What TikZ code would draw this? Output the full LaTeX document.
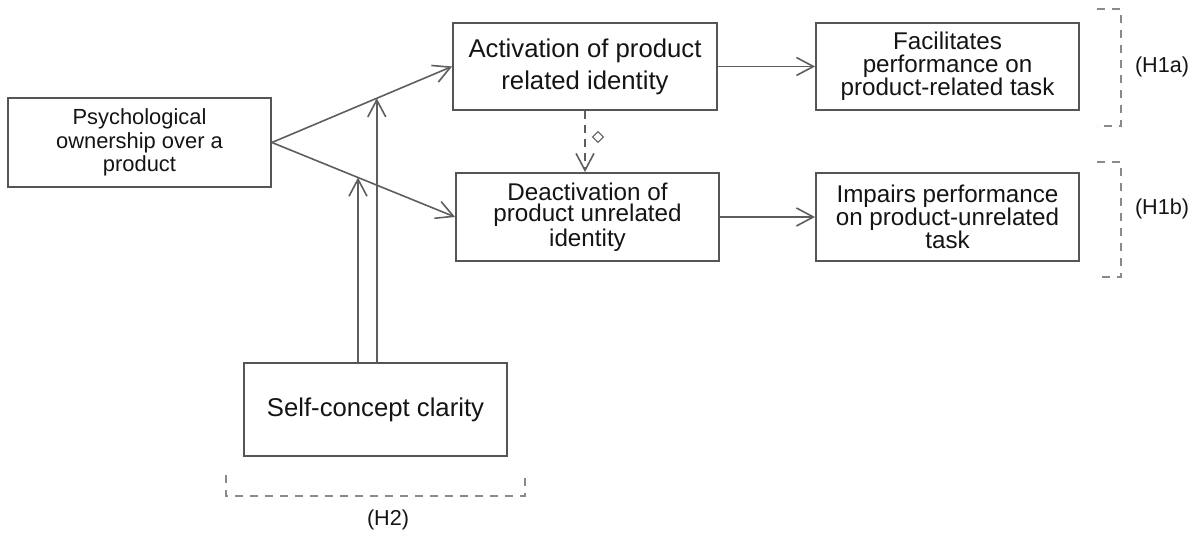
\documentclass[tikz,border=0pt]{standalone}
\usepackage{fontspec}
\setmainfont{Liberation Sans}
\usetikzlibrary{arrows.meta,calc,shapes.geometric}
\definecolor{linec}{HTML}{5E5E5E}
\definecolor{boxc}{HTML}{555555}
\definecolor{dashc}{HTML}{8A8A8A}
\definecolor{txtc}{HTML}{141414}
\tikzset{
  boxnode/.style={draw=boxc,line width=0.9pt,inner sep=0pt,align=center,text=txtc},
  arr/.style={draw=linec,line width=0.8pt,-{Straight Barb[length=8.5pt,width=9pt,line width=0.8pt]}},
  dasharr/.style={arr,dash pattern=on 4pt off 3pt},
  brack/.style={draw=dashc,line width=0.7pt,dash pattern=on 4pt off 3.5pt},
  hlabel/.style={text=txtc,font=\fontsize{10.8pt}{12pt}\selectfont,inner sep=0pt},
  diam/.style={diamond,draw=linec,line width=0.5pt,inner sep=0pt,minimum size=5.6pt}
}
\begin{document}
\begin{tikzpicture}[x=0.5pt,y=-0.5pt]
\useasboundingbox (0,0) rectangle (1199,533);
% boxes
\node[boxnode,minimum width=131.5pt,minimum height=44.5pt,font=\fontsize{10.95pt}{11.7pt}\selectfont] (po) at (139.5,142.5) {Psychological\\ownership over a\\product};
\node[boxnode,minimum width=132pt,minimum height=43.5pt,font=\fontsize{12.85pt}{16pt}\selectfont] (act) at (585,66.5) {Activation of product\\related identity};
\node[boxnode,minimum width=131.5pt,minimum height=44pt,font=\fontsize{12.1pt}{10.9pt}\selectfont] (deact) at (587.5,217) {Deactivation of\\product unrelated\\identity};
\node[boxnode,minimum width=131.5pt,minimum height=43.5pt,font=\fontsize{12.1pt}{11.5pt}\selectfont] (fac) at (947.5,66.5) {Facilitates\\performance on\\product-related task};
\node[boxnode,minimum width=131.5pt,minimum height=44pt,font=\fontsize{12.1pt}{11.5pt}\selectfont] (imp) at (947.5,217) {Impairs performance\\on product-unrelated\\task};
\node[boxnode,minimum width=131.5pt,minimum height=46.5pt,font=\fontsize{12.85pt}{15pt}\selectfont] (sc) at (375.5,409.5) {Self-concept clarity};
% connectors
\draw[arr] (po.east) -- (act.west);
\draw[arr] (po.east) -- (deact.west);
\draw[arr] (act.east) -- (fac.west);
\draw[arr] (deact.east) -- (imp.west);
\coordinate (j1) at ($(po.east)!0.582!(act.west)$);
\coordinate (j2) at ($(po.east)!0.470!(deact.west)$);
\draw[arr] (sc.north -| j1) -- (j1);
\draw[arr] (sc.north -| j2) -- (j2);
\draw[dasharr] (act.south) -- (act.south |- deact.north);
\node[diam] (dm) at (598,137) {};
% brackets
\draw[brack] (1097,9) -- (1121,9) -- (1121,126) -- (1097,126);
\draw[brack] (1097,162) -- (1121,162) -- (1121,277) -- (1097,277);
\draw[brack] (226,475) -- (226,496) -- (525,496) -- (525,478);
\node[hlabel] (h1a) at (1162,67) {(H1a)};
\node[hlabel] (h1b) at (1162,209) {(H1b)};
\node[hlabel] (h2) at (388,520) {(H2)};
\end{tikzpicture}
\end{document}
